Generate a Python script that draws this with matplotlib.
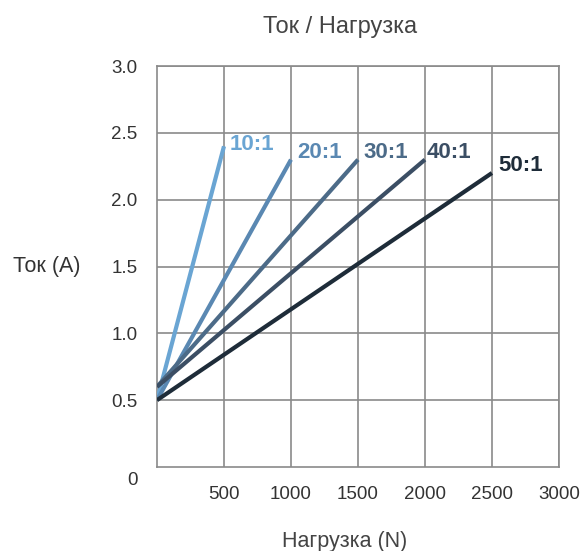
import numpy as np
import matplotlib.pyplot as plt

plt.rcParams['font.family'] = ['Liberation Sans', 'DejaVu Sans']

# Data
ratios = ['10:1', '20:1', '30:1', '40:1', '50:1']
load_start = [0, 0, 0, 0, 0]
load_end = [500, 1000, 1500, 2000, 2500]
current_start = [0.5, 0.5, 0.6, 0.6, 0.5]
current_end = [2.4, 2.3, 2.3, 2.3, 2.2]
colors = ['#6aa5d3', '#5a88b2', '#4c6b88', '#3b4e64', '#1e2c39']
label_offsets = [(4.3, -3), (4.3, 1.5), (3.6, 1.5), (1.5, 1.5), (4.3, 1.5)]

x_ticks = [500, 1000, 1500, 2000, 2500, 3000]
y_ticks = [0.5, 1.0, 1.5, 2.0, 2.5, 3.0]

fig = plt.figure(figsize=(5.81, 5.51), dpi=100)
ax = fig.add_axes([0.2702, 0.1525, 0.6918, 0.7275])

for name, x0, x1, y0, y1, c, off in zip(ratios, load_start, load_end,
                                        current_start, current_end,
                                        colors, label_offsets):
    ax.plot([x0, x1], [y0, y1], color=c, linewidth=3, solid_capstyle='butt', zorder=3)
    ax.annotate(name, xy=(x1, y1), xytext=off, textcoords='offset points',
                ha='left', va='baseline', fontsize=16, fontweight='bold', color=c)

ax.set_xlim(0, 3000)
ax.set_ylim(0, 3.0)
ax.set_xticks(x_ticks)
ax.set_yticks(y_ticks)
ax.set_xticklabels([str(v) for v in x_ticks])
ax.set_yticklabels([f'{v:.1f}' for v in y_ticks])
ax.tick_params(length=0, labelsize=13.5, labelcolor='#333333')
ax.tick_params(axis='x', pad=14)
ax.tick_params(axis='y', pad=14)
ax.grid(True, color='#8a8a8a', linewidth=1.2)
for s in ax.spines.values():
    s.set_color('#8a8a8a')
    s.set_linewidth(1.2)

# the zero label sits a bit below the axis corner
ax.annotate('0', xy=(0, 0), xycoords=('axes fraction', 'data'),
            xytext=(-14, -10), textcoords='offset points',
            ha='right', va='center', fontsize=13.5, color='#333333')

ax.text(-0.275, 0.5, 'Ток (A)', transform=ax.transAxes, ha='center', va='center',
        fontsize=15.5, color='#333333')
fig.text(0.585, 0.951, 'Ток / Нагрузка', ha='center', va='center',
         fontsize=17, color='#444444')
fig.text(0.593, 0.018, 'Нагрузка (N)', ha='center', va='center',
         fontsize=15.5, color='#444444')

plt.savefig('out.png', dpi=100)
